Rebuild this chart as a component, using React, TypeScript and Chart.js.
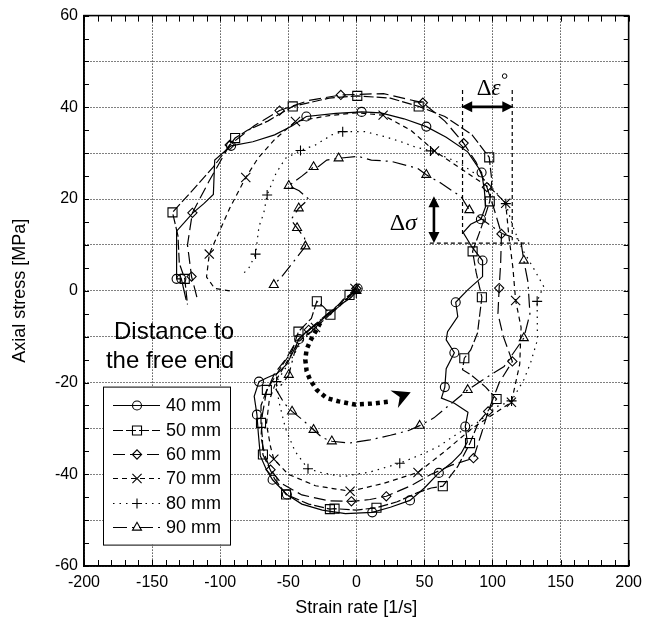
import React, { useEffect, useRef } from 'react';
import { Chart, registerables } from 'chart.js';

Chart.register(...registerables);

type P = [number, number];

// Axis settings
const xRange: P = [-200, 200];
const yRange: P = [-60, 60];
const xStep = 50;
const yGridStep = 10;
const yTickLabels = [-60, -40, -20, 0, 20, 40, 60];

const seriesLabels = ['40 mm', '50 mm', '60 mm', '70 mm', '80 mm', '90 mm'];

// 40 mm: full trace and marked samples
const path40: P[] = [
  [1, 0.5], [-1, -0.5], [-4, -1.5], [-9, -2.5], [-15, -4], [-22, -5.5], [-30, -7.5], [-37, -9],
  [-42, -10.5], [-46, -13], [-51, -16], [-58, -18], [-66, -19], [-71.5, -19.8], [-75, -23],
  [-73, -27], [-72, -31], [-70.5, -36], [-66, -39], [-61.5, -41.2], [-51, -44.4], [-40, -46.5],
  [-25, -47.8], [-8, -48.6], [11.7, -48.3], [25, -47.2], [39.4, -45.7], [50, -43], [60.6, -39.7],
  [70, -37.5], [77, -35.4], [81.5, -33], [80, -29.6], [82, -26.5], [72, -24.5], [62.5, -23.4],
  [65, -21], [66, -17], [72, -13.5], [66, -10.7], [67, -8.9], [74.5, -5.6], [73, -2.5],
  [81.8, 0.2], [92.7, 3.1], [92.7, 6.6], [85, 9.5], [78.5, 12.7], [84, 14.5], [91.5, 15.6],
  [95, 18.4], [94, 22], [92, 25.8], [81.8, 30.3], [66, 33.5], [51.4, 35.8], [35, 37.5],
  [18, 38.8], [3.9, 39], [-15, 38.7], [-36.7, 38], [-47, 36], [-60, 34], [-76, 32.5],
  [-92, 31.6], [-104, 28.5], [-105, 21], [-112, 19], [-120, 17], [-132, 13], [-132, 2.6],
  [-128.5, 2.6], [-125, -2],
];
const mark40: P[] = [
  [1, 0.5], [-42, -10.5], [-71.5, -19.8], [-73, -27], [-61.5, -41.2], [-51, -44.4], [11.7, -48.3],
  [39.4, -45.7], [60.6, -39.7], [80, -29.6], [65, -21], [72, -13.5], [73, -2.5], [92.7, 6.6],
  [91.5, 15.6], [92, 25.8], [51.4, 35.8], [3.9, 39], [-36.7, 38], [-92, 31.6], [-132, 2.6],
  [-128.5, 2.6],
];

// 50 mm
const path50: P[] = [
  [-1, 0], [-5, -0.9], [-10, -2], [-19, -5.2], [-24, -3.5], [-29, -2.3], [-33, -6], [-42.5, -8.9],
  [-47, -13], [-55, -16.5], [-65.7, -21.6], [-70, -25], [-70, -28.8], [-69, -32], [-68.6, -35.7],
  [-60, -41], [-51.6, -44.4], [-35, -46.5], [-19.4, -47.6], [-16, -47.5], [0, -47.8],
  [14.8, -47.3], [30, -46], [45, -44], [55, -43], [63.5, -42.6], [74.5, -38.3], [83.5, -33.2],
  [90, -28.5], [96.4, -26.3], [103, -23.6], [95, -21], [85, -18.5], [78, -17.2], [79.3, -14.7],
  [84, -12.9], [89, -9.2], [92.2, -1.4], [88, 4], [85.4, 8.6], [92, 14], [98, 19.5], [99.5, 24],
  [97.6, 29.1], [85, 34], [65, 38], [45.8, 40.2], [25, 42], [0.7, 42.5], [-20, 42],
  [-46.7, 40.2], [-65, 37], [-80, 35], [-89, 33.3], [-105, 27], [-120, 22], [-135, 17.1],
  [-131, 12], [-130, 6], [-126, 2.6], [-124, -3],
];
const mark50: P[] = [
  [-5, -0.9], [-19, -5.2], [-29, -2.3], [-42.5, -8.9], [-65.7, -21.6], [-70, -28.8],
  [-68.6, -35.7], [-51.6, -44.4], [-19.4, -47.6], [-16, -47.5], [14.8, -47.3], [63.5, -42.6],
  [83.5, -33.2], [103, -23.6], [79.3, -14.7], [92.2, -1.4], [85.4, 8.6], [98, 19.5],
  [97.6, 29.1], [45.8, 40.2], [0.7, 42.5], [-46.7, 40.2], [-89, 33.3], [-135, 17.1], [-126, 2.6],
];

// 60 mm
const path60: P[] = [
  [0, 0.5], [-5, -1], [-15, -3.5], [-25, -6], [-35, -8.5], [-44, -11], [-52, -15], [-60, -18],
  [-66, -22], [-69, -27], [-70, -32], [-67, -36], [-63, -39], [-55, -42], [-40, -44.5],
  [-20, -45.8], [-3.6, -45.9], [10, -45.5], [22, -44.8], [40, -42.5], [55, -40], [70, -38],
  [86, -36.5], [92, -31], [96.8, -26.3], [105, -20], [114.6, -15.4], [108, -10], [104, -5],
  [104.9, 0.6], [106, 6], [106.6, 12.4], [101, 18], [95.9, 22.6], [88, 28], [78.8, 32.2],
  [65, 37], [48.9, 41], [20, 43], [-11.4, 42.7], [-35, 41.5], [-56.4, 39.3], [-75, 36],
  [-93, 31.8], [-108, 24], [-120.4, 17], [-124, 10], [-121, 3.1], [-117, -1.5],
];
const mark60: P[] = [
  [0, 0.5], [-35, -8.5], [-63, -39], [-3.6, -45.9], [22, -44.8], [86, -36.5], [96.8, -26.3],
  [114.6, -15.4], [104.9, 0.6], [106.6, 12.4], [95.9, 22.6], [78.8, 32.2], [48.9, 41],
  [-11.4, 42.7], [-56.4, 39.3], [-93, 31.8], [-120.4, 17], [-121, 3.1],
];

// 70 mm
const path70: P[] = [
  [-1, 0.5], [-6, -1.5], [-15, -4], [-30, -8], [-42, -11], [-50, -15], [-58, -19], [-64, -24],
  [-66, -29], [-63, -34], [-60.6, -36.7], [-50, -40], [-30, -42.5], [-4.6, -43.7], [20, -42],
  [45.3, -39.6], [65, -35], [85, -30], [100, -27], [113.9, -24.3], [120, -16], [121, -8],
  [117, -2.1], [115, 5], [112, 12], [109.7, 19.1], [100, 22], [85, 25], [70, 28], [57.4, 30.5],
  [40, 35], [19.7, 38.3], [0, 38.8], [-20, 38.2], [-44.7, 36.9], [-60, 33], [-72, 29],
  [-81.2, 24.7], [-93, 18], [-102, 12], [-108, 8], [-110, 3], [-104, 0.5], [-93, 0],
];
const mark70: P[] = [
  [-1, 0.5], [-30, -8], [-60.6, -36.7], [-4.6, -43.7], [45.3, -39.6], [113.9, -24.3],
  [117, -2.1], [109.7, 19.1], [57.4, 30.5], [19.7, 38.3], [-44.7, 36.9], [-81.2, 24.7], [-108, 8],
];

// 80 mm
const path80: P[] = [
  [0, -0.5], [-5, -1.5], [-15, -4], [-28, -7.5], [-40, -11], [-50, -16], [-58.6, -19.8],
  [-57, -24], [-52, -30], [-45, -35], [-35.5, -38.8], [-25, -39.7], [-10, -40.5], [10, -39.5],
  [31.9, -37.6], [50, -35.4], [60, -34], [75, -31], [90, -28.5], [103.6, -25.2], [114, -24],
  [123, -19.4], [128, -15.7], [133, -10.7], [132.8, -2.3], [137.5, 1], [130, 5], [122, 9],
  [115, 14], [109.8, 19], [95, 24], [75, 28], [54.5, 30.5], [42.8, 31.4], [32.8, 32.5],
  [21, 33.6], [6.3, 34.7], [-10, 34.7], [-18, 34], [-30, 31.8], [-41, 30.6], [-52, 28.9],
  [-59, 25.6], [-65.5, 20.9], [-68, 16.9], [-71.5, 14], [-74, 8], [-79, 4.9], [-84, 3.5],
];
const mark80: P[] = [
  [0, -0.5], [-58.6, -19.8], [-35.5, -38.8], [31.9, -37.6], [114, -24], [132.8, -2.3],
  [109.8, 19], [54.5, 30.5], [-10, 34.7], [-41, 30.6], [-65.5, 20.9], [-74, 8],
];

// 90 mm
const path90: P[] = [
  [0, 0], [-10, -2.5], [-25, -6], [-38, -9.5], [-45, -13], [-49.6, -18.3], [-55, -20.5],
  [-59, -21.5], [-53, -24.5], [-47.2, -26.3], [-40, -28], [-31.4, -30.3], [-25, -32],
  [-18, -32.8], [-5, -33.2], [10, -32.5], [25, -31.5], [38, -30.5], [46.5, -29.4], [57, -27.7],
  [70, -24.5], [81.8, -21.6], [95, -19], [108.5, -16.5], [123, -10.3], [127.5, -5], [126, 2],
  [123, 6.6], [120.7, 11.1], [107, 12.5], [95, 15], [83, 17.6], [77, 20.5], [62, 23.5],
  [51.4, 25.3], [45, 26.7], [25.8, 28.2], [11, 28.5], [1.5, 29.3], [-13, 28.9], [-21.7, 28.5],
  [-27.7, 27.1], [-31.4, 27], [-40, 25], [-49.6, 22.9], [-42, 21.8], [-35, 20], [-42.3, 18],
  [-48, 15.5], [-43.5, 13.7], [-38, 11.5], [-37.4, 9.7], [-47, 6], [-55, 3], [-60.6, 1.3],
];
const mark90: P[] = [
  [0, 0], [-49.6, -18.3], [-47.2, -26.3], [-31.4, -30.3], [-18, -32.8], [46.5, -29.4],
  [81.8, -21.6], [123, -10.3], [123, 6.6], [83, 17.6], [51.4, 25.3], [-13, 28.9], [-31.4, 27],
  [-49.6, 22.9], [-42.3, 18], [-43.5, 13.7], [-37.4, 9.7], [-60.6, 1.3],
];

type MarkerStyle = 'circle' | 'rect' | 'rectRot' | 'crossRot' | 'cross' | 'triangle';

interface SeriesDef {
  label: string;
  path: P[];
  marks: P[];
  dash: number[];
  marker: MarkerStyle;
  radius: number;
}

const series: SeriesDef[] = [
  { label: seriesLabels[0], path: path40, marks: mark40, dash: [], marker: 'circle', radius: 4.5 },
  { label: seriesLabels[1], path: path50, marks: mark50, dash: [10, 3], marker: 'rect', radius: 6.4 },
  { label: seriesLabels[2], path: path60, marks: mark60, dash: [12, 5], marker: 'rectRot', radius: 4.6 },
  { label: seriesLabels[3], path: path70, marks: mark70, dash: [5, 4], marker: 'crossRot', radius: 6.5 },
  { label: seriesLabels[4], path: path80, marks: mark80, dash: [1.5, 5], marker: 'cross', radius: 5 },
  { label: seriesLabels[5], path: path90, marks: mark90, dash: [14, 5, 2, 5], marker: 'triangle', radius: 5.2 },
];

// Thick dotted arrow showing the loading direction
const directionArrow: P[] = [
  [-26.5, -7], [-30, -8.9], [-34, -11], [-36.5, -12.8], [-37.5, -15], [-36.5, -17.5], [-34, -19.4],
  [-29, -21.6], [-21.7, -23.4], [-13, -24.1], [-1, -24.8], [11.2, -24.6], [26, -24.1],
];

const SANS = '"Liberation Sans", Arial, sans-serif';
const SERIF = '"Liberation Serif", "DejaVu Serif", serif';

function drawMarker(ctx: CanvasRenderingContext2D, style: MarkerStyle, x: number, y: number, r: number) {
  ctx.beginPath();
  if (style === 'circle') {
    ctx.arc(x, y, r, 0, Math.PI * 2);
  } else if (style === 'rect') {
    const s = r * Math.SQRT1_2;
    ctx.rect(x - s, y - s, 2 * s, 2 * s);
  } else if (style === 'rectRot') {
    ctx.moveTo(x - r, y);
    ctx.lineTo(x, y - r);
    ctx.lineTo(x + r, y);
    ctx.lineTo(x, y + r);
    ctx.closePath();
  } else if (style === 'cross') {
    ctx.moveTo(x - r, y);
    ctx.lineTo(x + r, y);
    ctx.moveTo(x, y - r);
    ctx.lineTo(x, y + r);
  } else if (style === 'crossRot') {
    const s = r * Math.SQRT1_2;
    ctx.moveTo(x - s, y - s);
    ctx.lineTo(x + s, y + s);
    ctx.moveTo(x - s, y + s);
    ctx.lineTo(x + s, y - s);
  } else {
    const h = r * 1.5;
    const w = r * Math.sqrt(3) / 2;
    ctx.moveTo(x - w, y + h / 3);
    ctx.lineTo(x + w, y + h / 3);
    ctx.lineTo(x, y - (2 * h) / 3);
    ctx.closePath();
  }
  ctx.stroke();
}

function filledHead(ctx: CanvasRenderingContext2D, tx: number, ty: number, ang: number, len: number, hw: number) {
  const bx = tx - Math.cos(ang) * len;
  const by = ty - Math.sin(ang) * len;
  const nx = -Math.sin(ang);
  const ny = Math.cos(ang);
  ctx.beginPath();
  ctx.moveTo(tx, ty);
  ctx.lineTo(bx + nx * hw, by + ny * hw);
  ctx.lineTo(bx - nx * hw, by - ny * hw);
  ctx.closePath();
  ctx.fill();
}

function doubleArrow(ctx: CanvasRenderingContext2D, x1: number, y1: number, x2: number, y2: number) {
  const ang = Math.atan2(y2 - y1, x2 - x1);
  const len = 11;
  ctx.save();
  ctx.lineWidth = 2.6;
  ctx.setLineDash([]);
  ctx.beginPath();
  ctx.moveTo(x1 + Math.cos(ang) * len * 0.8, y1 + Math.sin(ang) * len * 0.8);
  ctx.lineTo(x2 - Math.cos(ang) * len * 0.8, y2 - Math.sin(ang) * len * 0.8);
  ctx.stroke();
  filledHead(ctx, x2, y2, ang, len, 5.5);
  filledHead(ctx, x1, y1, ang + Math.PI, len, 5.5);
  ctx.restore();
}

// Notched arrowhead ("➤" shape) whose tip sits at (tx, ty)
function notchedHead(ctx: CanvasRenderingContext2D, tx: number, ty: number, ang: number) {
  const len = 18;
  const hw = 9.5;
  const notch = 6;
  const c = Math.cos(ang);
  const s = Math.sin(ang);
  const nx = -s;
  const ny = c;
  const bx = tx - c * len;
  const by = ty - s * len;
  ctx.beginPath();
  ctx.moveTo(tx, ty);
  ctx.lineTo(bx + nx * hw, by + ny * hw);
  ctx.lineTo(bx + c * notch, by + s * notch);
  ctx.lineTo(bx - nx * hw, by - ny * hw);
  ctx.closePath();
  ctx.fill();
}

const decorPlugin = {
  id: 'decor',
  afterDatasetsDraw(chart: any) {
    const { ctx, chartArea: a, scales } = chart;
    const sx = (v: number) => scales.x.getPixelForValue(v);
    const sy = (v: number) => scales.y.getPixelForValue(v);
    ctx.save();
    ctx.strokeStyle = '#000';
    ctx.fillStyle = '#000';

    // inward minor ticks
    ctx.lineWidth = 1;
    ctx.setLineDash([]);
    ctx.beginPath();
    for (let v = xRange[0]; v <= xRange[1]; v += 10) {
      const px = Math.round(sx(v)) + 0.5;
      ctx.moveTo(px, a.bottom);
      ctx.lineTo(px, a.bottom - 6);
      ctx.moveTo(px, a.top);
      ctx.lineTo(px, a.top + 6);
    }
    for (let v = yRange[0]; v <= yRange[1]; v += 5) {
      const py = Math.round(sy(v)) + 0.5;
      ctx.moveTo(a.left, py);
      ctx.lineTo(a.left + 5, py);
      ctx.moveTo(a.right, py);
      ctx.lineTo(a.right - 5, py);
    }
    ctx.stroke();

    // plot frame
    ctx.lineWidth = 1.6;
    ctx.strokeRect(a.left, a.top, a.right - a.left, a.bottom - a.top);

    // strain-rate and stress increments
    ctx.lineWidth = 1.2;
    ctx.setLineDash([4, 3]);
    ctx.beginPath();
    ctx.moveTo(sx(78), sy(43.8));
    ctx.lineTo(sx(78), sy(12));
    ctx.moveTo(sx(114.5), sy(43.8));
    ctx.lineTo(sx(114.5), sy(11));
    ctx.moveTo(sx(54), sy(10.4));
    ctx.lineTo(sx(127), sy(10.4));
    ctx.stroke();
    ctx.setLineDash([]);
    doubleArrow(ctx, sx(77), sy(40.1), sx(115.3), sy(40.1));
    doubleArrow(ctx, sx(57), sy(20.6), sx(57), sy(10.4));

    ctx.textBaseline = 'alphabetic';
    ctx.textAlign = 'left';
    // Δσ
    ctx.font = `24px ${SERIF}`;
    const dW = ctx.measureText('Δ').width;
    const sgX = sx(24.5);
    const sgY = sy(15.1) + 8;
    ctx.fillText('Δ', sgX, sgY);
    ctx.font = `italic 24px ${SERIF}`;
    ctx.fillText('σ', sgX + dW, sgY);
    // Δε with rate mark
    ctx.font = `23px ${SERIF}`;
    const dW2 = ctx.measureText('Δ').width;
    const epX = sx(88.5);
    const epY = sy(44.2) + 7;
    ctx.fillText('Δ', epX, epY);
    ctx.font = `italic 23px ${SERIF}`;
    ctx.fillText('ε', epX + dW2, epY);
    ctx.lineWidth = 1;
    ctx.beginPath();
    ctx.arc(epX + dW2 + 13, epY - 19, 2.3, 0, Math.PI * 2);
    ctx.stroke();

    // direction arrow
    ctx.save();
    ctx.lineWidth = 4.5;
    ctx.setLineDash([4, 4]);
    ctx.lineCap = 'butt';
    ctx.beginPath();
    directionArrow.forEach(([x, y], i) => {
      if (i === 0) ctx.moveTo(sx(x), sy(y));
      else ctx.lineTo(sx(x), sy(y));
    });
    ctx.stroke();
    ctx.restore();
    {
      const [lx, ly] = directionArrow[directionArrow.length - 1];
      notchedHead(ctx, sx(lx) + 19, sy(ly) - 9, -0.4);
    }

    // caption
    ctx.font = `24px ${SANS}`;
    ctx.textAlign = 'center';
    ctx.textBaseline = 'middle';
    ctx.fillText('Distance to', a.left + 90, a.top + 317);
    ctx.fillText('the free end', a.left + 86, a.top + 346);

    // legend
    const lx = a.left + 19;
    const ly = a.top + 371;
    const lw = 127;
    const lh = 158;
    ctx.fillStyle = '#fff';
    ctx.fillRect(lx, ly, lw, lh);
    ctx.fillStyle = '#000';
    ctx.lineWidth = 1;
    ctx.strokeRect(lx + 0.5, ly + 0.5, lw, lh);
    ctx.font = `18px ${SANS}`;
    ctx.textAlign = 'left';
    series.forEach((s, i) => {
      const rowY = Math.round(ly + 18.5 + i * 24.4) + 0.5;
      ctx.lineWidth = 1.2;
      ctx.setLineDash(s.dash);
      ctx.beginPath();
      ctx.moveTo(lx + 10, rowY);
      ctx.lineTo(lx + 57, rowY);
      ctx.stroke();
      ctx.setLineDash([]);
      ctx.lineWidth = 1.1;
      drawMarker(ctx, s.marker, lx + 34, rowY, s.radius);
      ctx.fillText(s.label, lx + 63, rowY + 1);
    });
    ctx.restore();
  },
};

export default function App() {
  const ref = useRef<HTMLCanvasElement>(null);

  useEffect(() => {
    const datasets: any[] = [];
    series.forEach((s) => {
      datasets.push({
        label: s.label,
        data: s.path.map(([x, y]) => ({ x, y })),
        showLine: true,
        borderColor: '#000',
        borderWidth: 1.2,
        borderDash: s.dash,
        pointRadius: 0,
        pointHoverRadius: 0,
        tension: 0,
        fill: false,
        order: 2,
      });
      datasets.push({
        label: s.label + ' markers',
        data: s.marks.map(([x, y]) => ({ x, y })),
        showLine: false,
        pointStyle: s.marker,
        pointRadius: s.radius,
        pointHoverRadius: s.radius,
        pointBorderColor: '#000',
        pointBackgroundColor: 'rgba(0,0,0,0)',
        pointBorderWidth: 1.1,
        order: 1,
      });
    });

    const tickFont = { family: SANS, size: 16 };
    const titleFont = { family: SANS, size: 18 };

    const chart = new Chart(ref.current as HTMLCanvasElement, {
      type: 'scatter',
      data: { datasets },
      options: {
        responsive: false,
        animation: false,
        devicePixelRatio: 1,
        layout: { padding: { top: 15, right: 17, left: 0, bottom: 0 } },
        plugins: { legend: { display: false }, tooltip: { enabled: false } },
        scales: {
          x: {
            type: 'linear',
            min: xRange[0],
            max: xRange[1],
            afterFit: (s: any) => { s.height = 64; },
            ticks: { stepSize: xStep, font: tickFont, color: '#000', padding: 7, autoSkip: false, maxRotation: 0, callback: (v: any) => String(v) },
            grid: { color: '#000', lineWidth: 1, drawTicks: false },
            border: { display: true, color: '#000', width: 1.5, dash: [1, 2] },
            title: { display: true, text: 'Strain rate [1/s]', font: titleFont, color: '#000', padding: { top: 0, bottom: 11 } },
          },
          y: {
            type: 'linear',
            min: yRange[0],
            max: yRange[1],
            afterFit: (s: any) => { s.width = 84; },
            ticks: {
              stepSize: yGridStep,
              font: tickFont,
              color: '#000',
              padding: 6,
              autoSkip: false,
              callback: (v: any) => (yTickLabels.includes(Number(v)) ? String(v) : ''),
            },
            grid: { color: '#000', lineWidth: 1, drawTicks: false },
            border: { display: true, color: '#000', width: 1.5, dash: [1, 2] },
            title: { display: true, text: 'Axial stress [MPa]', font: titleFont, color: '#000', padding: { top: 9, bottom: 0 } },
          },
        },
      } as any,
      plugins: [decorPlugin],
    });
    return () => chart.destroy();
  }, []);

  return (
    <div style={{ position: 'absolute', left: 0, top: 0, width: 649, height: 630, background: '#fff' }}>
      <canvas ref={ref} width={649} height={630} style={{ display: 'block', width: 649, height: 630 }} />
    </div>
  );
}
